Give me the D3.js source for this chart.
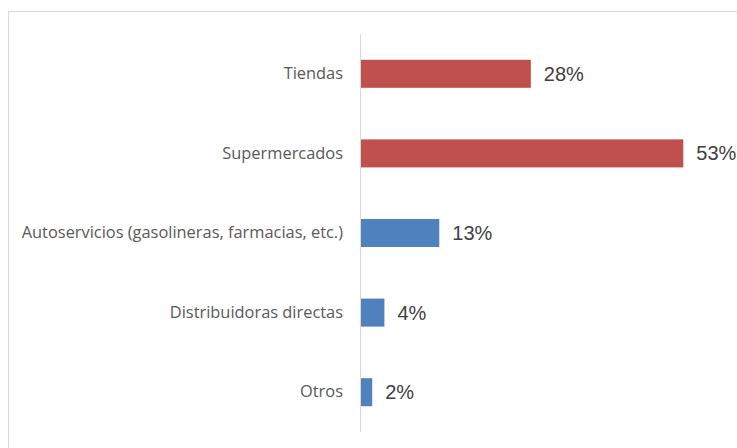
<!DOCTYPE html>
<html>
<head>
<meta charset="utf-8">
<script src="https://cdn.jsdelivr.net/npm/d3@7"></script>
<style>
  body { margin: 0; background: #fff; }
  .cat { font-family: "Open Sans", Lato, sans-serif; font-size: 16.4px; fill: #595959; }
  .val { font-family: "Liberation Sans", Arial, sans-serif; font-size: 20px; fill: #404040; }
</style>
</head>
<body>
<svg width="737" height="448"></svg>
<script>
// categories, top to bottom
var categories = ["Tiendas", "Supermercados", "Autoservicios (gasolineras, farmacias, etc.)", "Distribuidoras directas", "Otros"];
var values = [28, 53, 13, 4, 2];
var labels = ["28%", "53%", "13%", "4%", "2%"];
var barColors = ["#C0504D", "#C0504D", "#4F81BD", "#4F81BD", "#4F81BD"];

var svg = d3.select("svg");

// chart frame (runs off right and bottom edge)
svg.append("rect")
    .attr("x", 8.5).attr("y", 11.5)
    .attr("width", 760).attr("height", 460)
    .attr("fill", "none")
    .attr("stroke", "#D9D9D9");

var x = d3.scaleLinear()
    .domain([0, 60])
    .range([360, 726]);

var y = d3.scaleBand()
    .domain(categories)
    .range([34, 432])
    .paddingInner(0.648)
    .paddingOuter(0.324);

var data = categories.map(function(c, i) {
    return {cat: c, v: values[i], label: labels[i], color: barColors[i]};
});

svg.selectAll("rect.bar")
    .data(data)
    .enter().append("rect")
    .attr("class", "bar")
    .attr("x", x(0))
    .attr("y", function(d) { return y(d.cat); })
    .attr("width", function(d) { return x(d.v) - x(0); })
    .attr("height", y.bandwidth())
    .attr("fill", function(d) { return d.color; });

// vertical axis line with category labels
var yAxis = svg.append("g")
    .attr("transform", "translate(" + x(0) + ",0)")
    .call(d3.axisLeft(y).tickSize(0).tickPadding(17));
yAxis.select(".domain").attr("stroke", "#D9D9D9").attr("d", "M0.5,34V432");
yAxis.selectAll("text").attr("class", "cat").attr("fill", null).attr("font-size", null).attr("font-family", null);

svg.selectAll("text.val")
    .data(data)
    .enter().append("text")
    .attr("class", "val")
    .attr("x", function(d) { return x(d.v) + 13; })
    .attr("y", function(d) { return y(d.cat) + y.bandwidth() / 2; })
    .attr("dy", "0.35em")
    .text(function(d) { return d.label; });
</script>
</body>
</html>
